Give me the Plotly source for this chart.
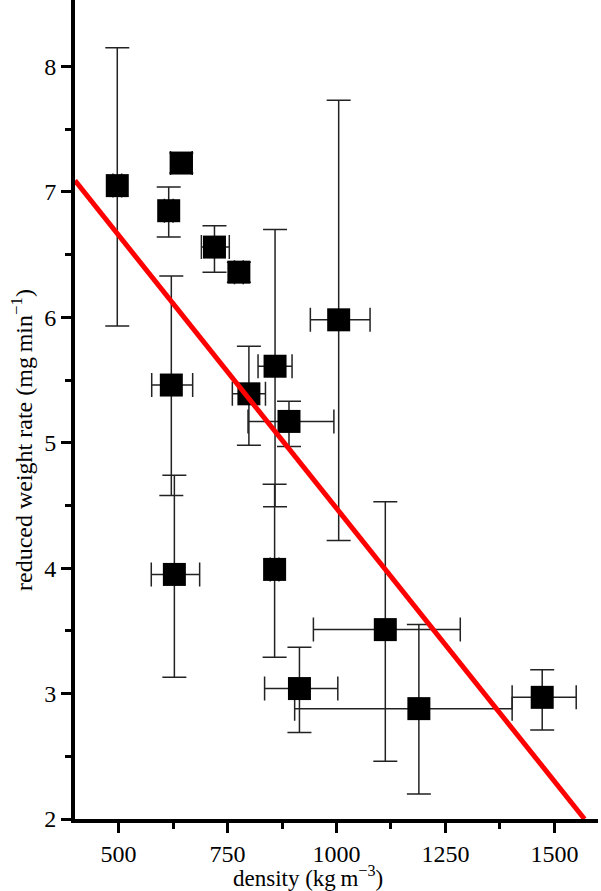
import plotly.graph_objects as go

# values
density = [497, 644, 615, 720, 776, 1005, 859, 799, 891, 621, 628, 858, 915, 1112, 1189, 1472]
rate = [7.05, 7.23, 6.85, 6.56, 6.36, 5.98, 5.61, 5.39, 5.17, 5.46, 3.95, 3.99, 3.04, 3.51, 2.88, 2.97]
rate_err_plus = [1.10, 0.08, 0.19, 0.17, 0.08, 1.75, 1.09, 0.38, 0.16, 0.87, 0.79, 0.68, 0.33, 1.02, 0.67, 0.22]
rate_err_minus = [1.12, 0.08, 0.21, 0.20, 0.08, 1.76, 1.12, 0.41, 0.20, 0.88, 0.82, 0.70, 0.35, 1.05, 0.68, 0.26]
density_err_plus = [10, 25, 10, 34, 10, 72, 39, 38, 103, 49, 58, 10, 88, 172, 214, 78]
density_err_minus = [10, 25, 10, 30, 10, 65, 39, 38, 94, 45, 53, 10, 80, 165, 285, 69]

# linear fit drawn as a red line
fit_density = [400, 1569]
fit_rate = [7.09, 2.0]

FONT = "Liberation Serif"

fig = go.Figure()

fig.add_trace(go.Scatter(
    x=density, y=rate, mode="markers",
    marker=dict(symbol="square", size=23, color="black", line_width=0),
    error_y=dict(type="data", symmetric=False, array=rate_err_plus,
                 arrayminus=rate_err_minus, color="#222222", thickness=1.5, width=12),
    error_x=dict(type="data", symmetric=False, array=density_err_plus,
                 arrayminus=density_err_minus, color="#222222", thickness=1.5, width=12),
    showlegend=False,
))

fig.add_trace(go.Scatter(
    x=fit_density, y=fit_rate, mode="lines",
    line=dict(color="#ff0000", width=5), showlegend=False,
))

axis_common = dict(
    showline=True, linewidth=4, linecolor="black", mirror=False,
    showgrid=False, zeroline=False,
    ticks="outside", ticklen=10, tickwidth=3, tickcolor="black",
    tickfont=dict(family=FONT, size=24, color="black"),
)

fig.update_xaxes(range=[400, 1600], tickvals=[500, 750, 1000, 1250, 1500],
                 minor=dict(tickvals=[625, 875, 1125, 1375], ticks="outside",
                            ticklen=6, tickwidth=3, tickcolor="black"),
                 **axis_common)
fig.update_yaxes(range=[2, 8.53], tickvals=[2, 3, 4, 5, 6, 7, 8],
                 minor=dict(tickvals=[2.5, 3.5, 4.5, 5.5, 6.5, 7.5], ticks="outside",
                            ticklen=6, tickwidth=3, tickcolor="black"),
                 **axis_common)

fig.add_annotation(text="density (kg\u2009m<sup>\u22123</sup>)",
                   xref="paper", yref="paper", x=(308 - 75) / 523, y=-(876 - 819) / 819,
                   xanchor="center", yanchor="middle", showarrow=False,
                   font=dict(family=FONT, size=23, color="black"))
fig.add_annotation(text="reduced weight rate (mg\u2009min<sup>\u22121</sup>)",
                   xref="paper", yref="paper", x=(22 - 75) / 523, y=(819 - 440) / 819,
                   xanchor="center", yanchor="middle", textangle=-90, showarrow=False,
                   font=dict(family=FONT, size=24, color="black"))

fig.update_layout(
    width=601, height=891,
    margin=dict(l=75, r=3, t=0, b=72),
    plot_bgcolor="white", paper_bgcolor="white",
)

# drop the default page margin so the figure sits at the window's corner
fig.write_html("out.html", config={"displayModeBar": False},
               post_script="document.body.style.margin='0';")
